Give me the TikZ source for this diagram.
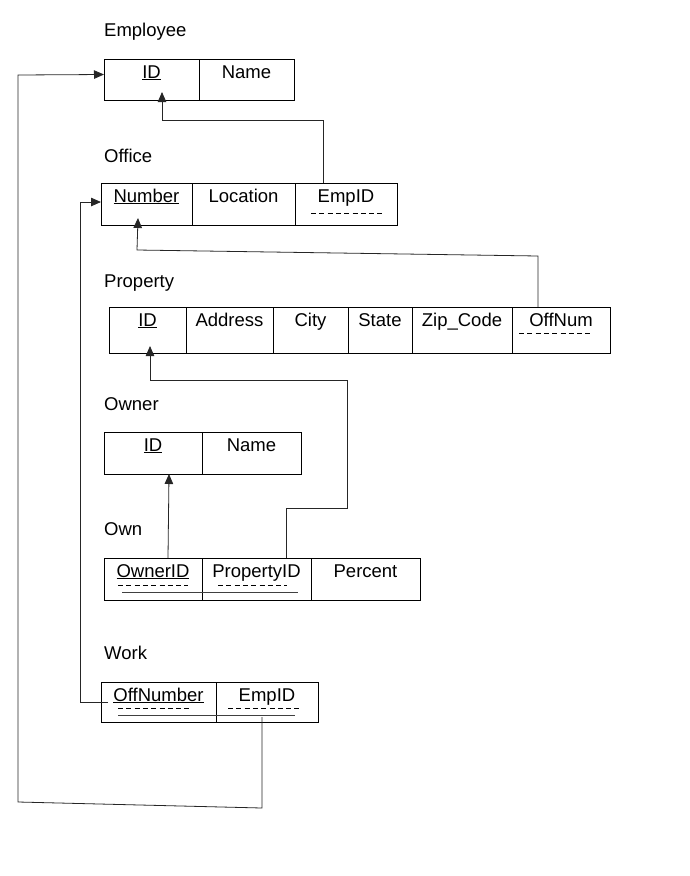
\documentclass[tikz,border=0pt]{standalone}
\usepackage{fontspec}
\setmainfont{Liberation Sans}
\usetikzlibrary{positioning, arrows.meta}

\tikzset{
  cell/.style={draw, line width=0.8pt, inner sep=0pt, outer sep=0pt, text height=19pt, text depth=#1},
  cell/.default=23pt,
  title/.style={anchor=base west, inner sep=0pt},
  fk/.style={draw=black!85, line width=0.8pt, ->, >={Triangle[width=8.5pt,length=10pt]}},
  fkdash/.style={line width=0.7pt, dash pattern=on 5pt off 3.3pt},
  pkline/.style={draw=black!75, line width=0.8pt}
}

\begin{document}
\begin{tikzpicture}[x=1pt, y=-1pt, font=\fontsize{18.5pt}{22pt}\selectfont]
  \useasboundingbox (0,0) rectangle (689,876);

  % Employee
  \node[title] (emp-title) at (104,36) {Employee};
  \node[cell=22pt, minimum width=95pt, anchor=north west] (emp-id) at (104,59) {\underline{ID}};
  \node[cell=22pt, minimum width=95pt, right=0pt of emp-id] (emp-name) {Name};

  % Office
  \node[title] (off-title) at (104,162) {Office};
  \node[cell, minimum width=91pt, anchor=north west] (off-num) at (101,183) {\underline{Number}};
  \node[cell, minimum width=103pt, right=0pt of off-num] (off-loc) {Location};
  \node[cell, minimum width=102pt, right=0pt of off-loc] (off-emp) {EmpID};
  \draw[fkdash] (311,213) -- (385,213);

  % Property
  \node[title] (prop-title) at (104,287) {Property};
  \node[cell=27pt, minimum width=77pt, anchor=north west] (prop-id) at (109,307) {\underline{ID}};
  \node[cell=27pt, minimum width=87pt, right=0pt of prop-id] (prop-addr) {Address};
  \node[cell=27pt, minimum width=75pt, right=0pt of prop-addr] (prop-city) {City};
  \node[cell=27pt, minimum width=64pt, right=0pt of prop-city] (prop-state) {State};
  \node[cell=27pt, minimum width=100pt, right=0pt of prop-state] (prop-zip) {Zip\_Code};
  \node[cell=27pt, minimum width=98pt, right=0pt of prop-zip] (prop-off) {OffNum};
  \draw[fkdash] (519,333) -- (593,333);

  % Owner
  \node[title] (owner-title) at (104,410) {Owner};
  \node[cell, minimum width=98pt, anchor=north west] (owner-id) at (104,432) {\underline{ID}};
  \node[cell, minimum width=99pt, right=0pt of owner-id] (owner-name) {Name};

  % Own
  \node[title] (own-title) at (104,535) {Own};
  \node[cell, minimum width=98pt, anchor=north west] (own-owner) at (104,558) {\underline{OwnerID}};
  \node[cell, minimum width=109pt, right=0pt of own-owner] (own-prop) {PropertyID};
  \node[cell, minimum width=109pt, right=0pt of own-prop] (own-pct) {Percent};
  \draw[fkdash] (118,585) -- (188,585);
  \draw[fkdash] (218,585) -- (287,585);
  \draw[pkline] (122,592) -- (298,592);

  % Work
  \node[title] (work-title) at (104,659) {Work};
  \node[cell=21pt, minimum width=115pt, anchor=north west] (work-off) at (101,682) {\underline{OffNumber}};
  \node[cell=21pt, minimum width=102pt, right=0pt of work-off] (work-emp) {EmpID};
  \draw[fkdash] (118,708) -- (191,708);
  \draw[fkdash] (228,708) -- (302,708);
  \draw[pkline] (118,715) -- (295,715);

  % foreign keys
  \draw[fk] ([xshift=-23pt]off-emp.north) |- (162,120) -- ([xshift=10.5pt,yshift=8pt]emp-id.south);
  \draw[fk] ([xshift=-23pt]prop-off.north) -- (538,256) -- (137,250) -- ([xshift=-8.5pt,yshift=7pt]off-num.south);
  \draw[fk] ([xshift=29.5pt]own-prop.north) |- (347,508) |- (150,380) -- ([xshift=2.5pt,yshift=7pt]prop-id.south);
  \draw[fk] ([xshift=15pt]own-owner.north) -- ([xshift=16pt]owner-id.south);
  \draw[fk] ([xshift=7pt]work-off.west) -| (80,202) -- ([yshift=2pt]off-num.west);
  \draw[fk] ([xshift=-5pt,yshift=5pt]work-emp.south) -- (262,808) -- (18,802) -- (18,75) -- ([yshift=5pt]emp-id.west);
\end{tikzpicture}
\end{document}
